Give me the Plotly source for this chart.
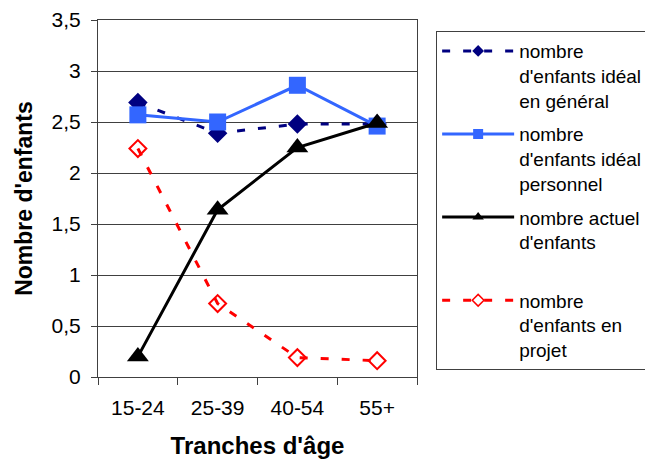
import plotly.graph_objects as go

# Age groups on the horizontal axis
age_groups = ["15-24", "25-39", "40-54", "55+"]

# Average number of children per age group
ideal_general = [2.69, 2.39, 2.48, 2.48]
ideal_personal = [2.57, 2.50, 2.86, 2.46]
current_children = [0.20, 1.64, 2.25, 2.49]
planned_children = [2.24, 0.72, 0.19, 0.16]

series_names = [
    "nombre<br>d'enfants idéal<br>en général",
    "nombre<br>d'enfants idéal<br>personnel",
    "nombre actuel<br>d'enfants<br> ",
    "nombre<br>d'enfants en<br>projet",
]

FONT = "Liberation Sans, Arial, sans-serif"

# Per-series styling: line, marker in the plot, marker size in the legend
styles = [
    dict(line=dict(color="#000080", width=3, dash="8px,13px"),
         symbol="diamond", size=15, legend_size=9, color="#000080", mline=None),
    dict(line=dict(color="#3366FF", width=3),
         symbol="square", size=17, legend_size=10, color="#3366FF", mline=None),
    dict(line=dict(color="#000000", width=3),
         symbol="triangle-up", size=19, legend_size=10, color="#000000", mline=None),
    dict(line=dict(color="#FF0000", width=3, dash="8px,13px"),
         symbol="diamond-open", size=13, legend_size=9, color="#FF0000",
         mline=dict(color="#FF0000", width=2)),
]
series_values = [ideal_general, ideal_personal, current_children, planned_children]

fig = go.Figure()

for name, values, st in zip(series_names, series_values, styles):
    marker = dict(symbol=st["symbol"], size=st["size"], color=st["color"])
    if st["mline"]:
        marker["line"] = st["mline"]
    fig.add_trace(go.Scatter(
        x=age_groups, y=values, name=name, mode="lines+markers",
        line=st["line"], marker=marker, showlegend=False,
    ))

# Legend entries use smaller symbols than the plotted markers
for i, (name, st) in enumerate(zip(series_names, styles)):
    marker = dict(symbol=st["symbol"], size=st["legend_size"], color=st["color"])
    if st["mline"]:
        marker["line"] = dict(color=st["color"], width=1.5)
    fig.add_trace(go.Scatter(
        x=[None], y=[None], name=name, legendgroup=f"g{i}",
        mode="lines+markers", line=st["line"], marker=marker, showlegend=True,
    ))

fig.update_layout(
    width=645, height=462,
    margin=dict(l=98, r=228, t=20, b=85, autoexpand=False),
    paper_bgcolor="white", plot_bgcolor="white",
    separators=", ",
    font=dict(family=FONT, size=21, color="#000000"),
    showlegend=True,
    legend=dict(
        x=1.06, y=0.969, xanchor="left", yanchor="top",
        bordercolor="#404040", borderwidth=1, bgcolor="white",
        font=dict(family=FONT, size=19, color="#000000"),
        valign="top", tracegroupgap=6, itemwidth=72,
    ),
    xaxis=dict(
        type="category", range=[-0.5, 3.5],
        tickson="boundaries", ticks="outside", ticklen=7, tickcolor="#404040",
        showline=True, linecolor="#404040", linewidth=1, mirror=True,
        showgrid=False, zeroline=False, ticklabelstandoff=12,
        tickfont=dict(family=FONT, size=21),
        title=dict(text="<b>Tranches d'âge</b>", font=dict(family=FONT, size=24), standoff=18),
    ),
    yaxis=dict(
        range=[0, 3.5], dtick=0.5, tick0=0,
        ticks="outside", ticklen=6, tickcolor="#404040",
        showline=True, linecolor="#404040", linewidth=1, mirror=True,
        showgrid=True, gridcolor="#404040", gridwidth=1, zeroline=False,
        ticklabelstandoff=6,
        tickfont=dict(family=FONT, size=21),
        title=dict(text="<b>Nombre d'enfants</b>", font=dict(family=FONT, size=23), standoff=12),
    ),
)

fig.write_html("out.html")
